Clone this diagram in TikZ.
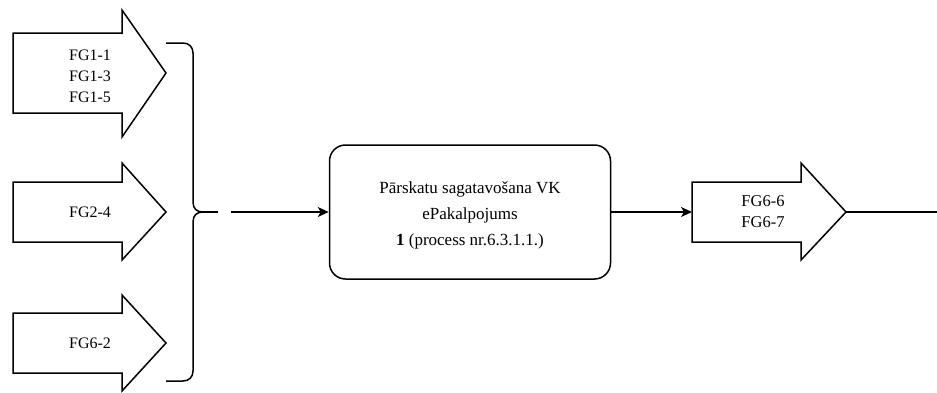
\documentclass[tikz,border=0pt]{standalone}
\usepackage{fontspec}
\setmainfont{Liberation Serif}
\usetikzlibrary{arrows.meta}
\begin{document}
\begin{tikzpicture}[x=1pt,y=-1pt,line width=1.5pt,line join=miter,
  fgshape/.style={draw=black,fill=white},
  fgtext/.style={font=\fontsize{16}{21}\selectfont,align=center,inner sep=0pt},
  outtext/.style={font=\fontsize{16.5}{21}\selectfont,align=center,inner sep=0pt},
  procbox/.style={draw=black,rounded corners=16pt,minimum width=281pt,minimum height=134pt,inner sep=0pt},
  proctext/.style={font=\fontsize{17}{26}\selectfont,align=center,inner sep=0pt},
  conn/.style={draw=black,-{Stealth[length=11pt,width=10pt,inset=3pt]}}]
\useasboundingbox (0,0) rectangle (937,392);
% input arrows
\draw[fgshape] (13,33)--(122,33)--(122,10)--(166,73)--(122,137)--(122,113)--(13,113)--cycle;
\node[fgtext] (fg1) at (90,76) {FG1-1\\FG1-3\\FG1-5};
\draw[fgshape] (13,182)--(122,182)--(122,163)--(166,212)--(122,260)--(122,242)--(13,242)--cycle;
\node[fgtext] (fg2) at (90,212) {FG2-4};
\draw[fgshape] (13,313)--(122,313)--(122,295)--(166,343)--(122,391)--(122,373)--(13,373)--cycle;
\node[fgtext] (fg3) at (90,343) {FG6-2};
% brace
\coordinate (btip) at (203,212);
\draw (166,43) -- (183,43) .. controls (189,43) and (193,47) .. (193,53) -- (193,202)
  .. controls (193,209) and (197,212) .. (btip)
  .. controls (197,212) and (193,215) .. (193,222) -- (193,371)
  .. controls (193,377) and (189,381) .. (183,381) -- (166,381);
\coordinate (bdash) at (218,212);
\draw (btip) -- (bdash);
\coordinate (lstart) at (231,212);
% process box
\node[procbox] (proc) at (470,212) {};
\node[proctext] (ptext) at (470,215) {Pārskatu sagatavošana VK\\ePakalpojums\\\textbf{1} (process nr.6.3.1.1.)};
\draw[conn] (lstart) -- (proc.west);
% output arrow
\draw[fgshape] (692,182)--(801,182)--(801,163)--(846,212)--(801,260)--(801,242)--(692,242)--cycle;
\coordinate (outin) at (692,212);
\coordinate (outtip) at (846,212);
\coordinate (outend) at (937,212);
\node[outtext] (fg6) at (763,212) {FG6-6\\FG6-7};
\draw[conn] (proc.east) -- (outin);
\draw (outtip) -- (outend);
\end{tikzpicture}
\end{document}
